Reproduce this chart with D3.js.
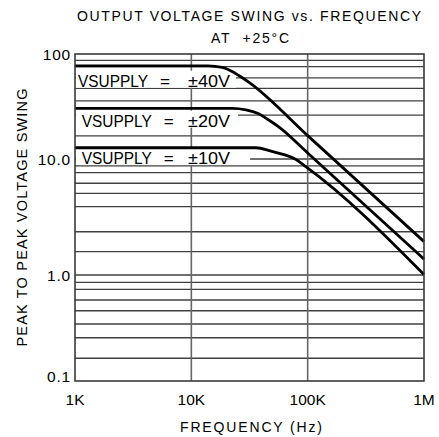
<!DOCTYPE html>
<html><head><meta charset="utf-8">
<script src="https://cdn.jsdelivr.net/npm/d3@7"></script>
<style>
html,body{margin:0;padding:0;background:#fff;}
svg{display:block;font-family:"Liberation Sans",Arial,Helvetica,sans-serif;}
</style></head><body>
<svg id="chart" width="439" height="437"></svg>
<script>
// ---- data ----
const titleLines = ["OUTPUT VOLTAGE SWING vs. FREQUENCY", "AT  +25°C"];
const xAxisTitle = "FREQUENCY (Hz)";
const yAxisTitle = "PEAK TO PEAK VOLTAGE SWING";
const freqTicks = [1e3, 1e4, 1e5, 1e6];
const freqTickLabels = ["1K", "10K", "100K", "1M"];
const voltTicks = [0.1, 1, 10, 100];
const voltTickLabels = ["0.1", "1.0", "10.0", "100"];
const voltMinorGrid = [0.164, 0.256, 0.345, 0.46, 0.581, 0.733, 0.853,
                       1.59, 2.36, 3.88, 5.06, 6.18, 7.62, 8.71,
                       16.6, 26.2, 35.7, 47.1, 59.3, 75.7, 87.1];
const seriesNames = ["VSUPPLY", "VSUPPLY", "VSUPPLY"];
const seriesSupply = ["±40V", "±20V", "±10V"];
const swing40 = [[1e3, 77], [13.9e3, 77], [18.4e3, 74.4], [22.4e3, 68.1], [26.8e3, 60.4], [32e3, 52.8], [100e3, 16.7], [1e6, 1.94]];
const swing20 = [[1e3, 30.4], [22.4e3, 30.4], [29.5e3, 29.4], [37.5e3, 27.1], [45.6e3, 23.8], [57.9e3, 19.8], [100e3, 11.4], [1e6, 1.37]];
const swing10 = [[1e3, 12.8], [36e3, 12.8], [48.4e3, 11.9], [62.7e3, 11.0], [77.9e3, 10.0], [96.9e3, 8.57], [1e6, 1.01]];

// ---- layout ----
const svg = d3.select("#chart");
const pL = 75, pR = 424, pT = 54, pB = 381;
const x = d3.scaleLog().domain([1e3, 1e6]).range([pL, pR]);
const y = d3.scaleLog().domain([0.1, 1, 10, 100]).range([pB, 275, 159, pT]);

const gridColor = "#404040";
const g = svg.append("g");

// horizontal grid
const hLines = voltMinorGrid.concat(voltTicks.slice(1, 3));
g.selectAll("line.h").data(hLines).join("line")
  .attr("x1", pL).attr("x2", pR)
  .attr("y1", d => y(d)).attr("y2", d => y(d))
  .attr("stroke", gridColor).attr("stroke-width", 1.3);
// vertical grid
g.selectAll("line.v").data(freqTicks.slice(1, 3)).join("line")
  .attr("x1", d => x(d)).attr("x2", d => x(d))
  .attr("y1", pT).attr("y2", pB)
  .attr("stroke", "#666").attr("stroke-width", 1.6);

// label layout (positions only)
const labelLayout = [
  {x0: 78, base: 86.7, boxRight: 236},
  {x0: 81.7, base: 126.7, boxRight: 238},
  {x0: 81.7, base: 164, boxRight: 250}
];
// white boxes behind labels
labelLayout.forEach(L => {
  g.append("rect").attr("x", pL + 1).attr("y", L.base - 16)
    .attr("width", L.boxRight - pL - 1).attr("height", 17)
    .attr("fill", "#fff");
});

// curves
const line = d3.line().x(d => x(d[0])).y(d => y(d[1])).curve(d3.curveMonotoneX);
[swing40, swing20, swing10].forEach(s => {
  g.append("path").attr("d", line(s)).attr("fill", "none")
    .attr("stroke", "#000").attr("stroke-width", 2.8).attr("stroke-linejoin", "round");
});

// labels
labelLayout.forEach((L, i) => {
  const t = g.append("text").attr("y", L.base).attr("font-size", 16.3).attr("fill", "#000");
  t.append("tspan").attr("x", L.x0).attr("textLength", 70).attr("lengthAdjust", "spacingAndGlyphs").text(seriesNames[i]);
  t.append("tspan").attr("x", L.x0 + 82).attr("textLength", 10).attr("lengthAdjust", "spacingAndGlyphs").text("=");
  t.append("tspan").attr("x", 188).attr("textLength", 42).attr("lengthAdjust", "spacingAndGlyphs").text(seriesSupply[i]);
});

// frame
g.append("rect").attr("x", pL).attr("y", pT)
  .attr("width", pR - pL).attr("height", pB - pT)
  .attr("fill", "none").attr("stroke", "#3a3a3a").attr("stroke-width", 1.6);

// y tick labels
g.selectAll("text.yt").data(voltTicks).join("text")
  .attr("x", 71).attr("y", d => Math.min(Math.max(y(d), 52), 376))
  .attr("dy", "0.36em").attr("text-anchor", "end")
  .attr("font-size", 15.5).attr("letter-spacing", 0.8)
  .text((d, i) => voltTickLabels[i]);
// x tick labels
g.selectAll("text.xt").data(freqTicks).join("text")
  .attr("x", d => x(d)).attr("y", 405).attr("text-anchor", "middle")
  .attr("font-size", 15.5)
  .text((d, i) => freqTickLabels[i]);

// titles
svg.append("text").attr("x", 249).attr("y", 20.7).attr("text-anchor", "middle")
  .attr("font-size", 14).attr("textLength", 344).attr("lengthAdjust", "spacing").text(titleLines[0]);
svg.append("text").attr("x", 250).attr("y", 42.7).attr("text-anchor", "middle")
  .attr("font-size", 14).attr("textLength", 78).attr("lengthAdjust", "spacing")
  .style("white-space", "pre").text(titleLines[1]);
svg.append("text").attr("x", 251).attr("y", 431.5).attr("text-anchor", "middle")
  .attr("font-size", 14).attr("textLength", 142).attr("lengthAdjust", "spacing").text(xAxisTitle);
svg.append("text").attr("transform", "translate(26.5,217.5) rotate(-90)")
  .attr("text-anchor", "middle").attr("font-size", 14.5)
  .attr("textLength", 258).attr("lengthAdjust", "spacing").text(yAxisTitle);
</script>
</body></html>
